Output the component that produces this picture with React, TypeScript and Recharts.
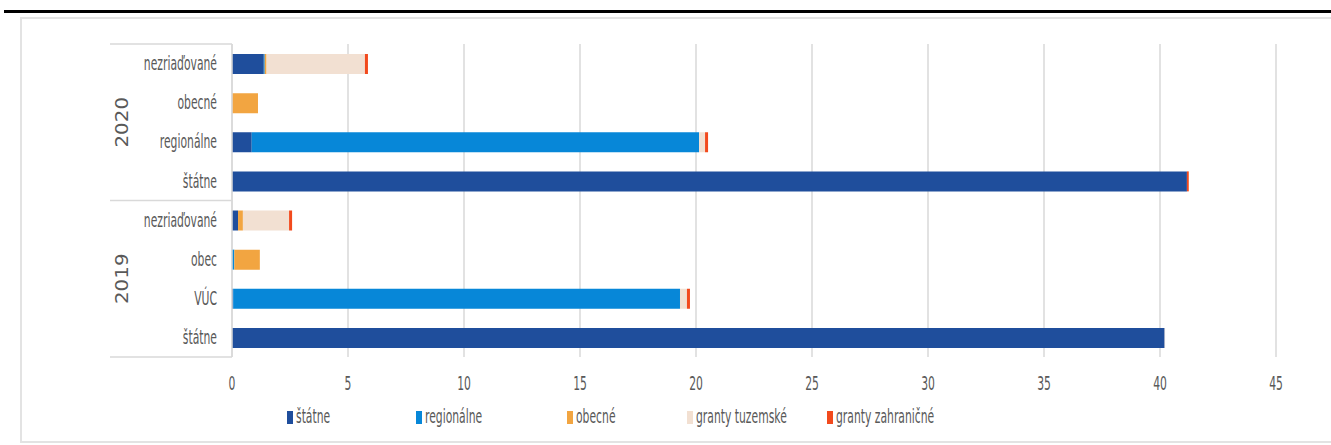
import React from 'react';
import { BarChart, Bar, XAxis, YAxis, CartesianGrid } from 'recharts';

const categories = ['nezriaďované', 'obecné', 'regionálne', 'štátne', 'nezriaďované', 'obec', 'VÚC', 'štátne'];
const years = ['2020', '2020', '2020', '2020', '2019', '2019', '2019', '2019'];
const statne = [1.37, 0, 0.85, 41.16, 0.26, 0, 0.05, 40.2];
const regionalne = [0.04, 0, 19.28, 0, 0, 0.1, 19.26, 0];
const obecne = [0.08, 1.12, 0, 0, 0.21, 1.1, 0, 0];
const grantyTuzemske = [4.24, 0, 0.26, 0, 1.99, 0, 0.3, 0.02];
const grantyZahranicne = [0.13, 0, 0.13, 0.08, 0.13, 0, 0.13, 0];
const xTicks = [0, 5, 10, 15, 20, 25, 30, 35, 40, 45];

const seriesNames = ['štátne', 'regionálne', 'obecné', 'granty tuzemské', 'granty zahraničné'];
const seriesColors = ['#1f4e9c', '#0787d8', '#f2a541', '#f2e0d2', '#f24a1d'];
const seriesValues = [statne, regionalne, obecne, grantyTuzemske, grantyZahranicne];

const data = categories.map((c, i) => {
  const row: any = { id: `${years[i]}-${i}`, cat: c, year: years[i] };
  seriesNames.forEach((s, k) => {
    row[s] = seriesValues[k][i];
  });
  return row;
});

const W = 1331;
const H = 445;
const PLOT_TOP = 44;
const PLOT_BOTTOM = 357;
const PLOT_LEFT = 232;
const PLOT_RIGHT = 1276;
const BAND = (PLOT_BOTTOM - PLOT_TOP) / categories.length;
const FONT = "'Liberation Sans Narrow', 'DejaVu Sans Condensed', 'Arial Narrow', sans-serif";
const TEXT = '#595959';
const GRID = '#d9d9d9';
const SX = 0.8;
const SY = 1.3;

const YTick = (props: any) => {
  const { y, index } = props;
  const i = index;
  const els: any[] = [];
  els.push(
    <text
      key="t"
      transform={`translate(${PLOT_LEFT - 15},${y}) scale(${SX},${SY})`}
      textAnchor="end"
      dominantBaseline="central"
      fontFamily={FONT}
      fontSize={15}
      fill={TEXT}
    >
      {categories[i]}
    </text>
  );
  const isStart = i === 0 || years[i] !== years[i - 1];
  if (isStart) {
    els.push(<line key="l" x1={110} x2={PLOT_LEFT} y1={y - BAND / 2} y2={y - BAND / 2} stroke={GRID} strokeWidth={1.5} />);
    let n = 0;
    while (i + n < years.length && years[i + n] === years[i]) n++;
    const cy = y - BAND / 2 + (n * BAND) / 2;
    els.push(
      <text
        key="y"
        transform={`translate(122,${cy}) scale(1,${SY}) rotate(-90)`}
        textAnchor="middle"
        dominantBaseline="central"
        fontFamily={FONT}
        fontSize={17}
        fill={TEXT}
      >
        {years[i]}
      </text>
    );
  }
  if (i === categories.length - 1) {
    els.push(<line key="b" x1={110} x2={PLOT_LEFT} y1={y + BAND / 2} y2={y + BAND / 2} stroke={GRID} strokeWidth={1.5} />);
  }
  return <g>{els}</g>;
};

const XTick = (props: any) => {
  const { x, payload } = props;
  return (
    <text
      transform={`translate(${x},${PLOT_BOTTOM + 26}) scale(${SX},${SY})`}
      textAnchor="middle"
      dominantBaseline="central"
      fontFamily={FONT}
      fontSize={15}
      fill={TEXT}
    >
      {payload.value}
    </text>
  );
};

const legendWidths = [129, 151, 120, 140, 180];

const LegendBox = () => (
  <div style={{ position: 'absolute', left: 287, top: 406, display: 'flex', fontFamily: FONT, fontSize: 15, color: TEXT }}>
    {seriesNames.map((s, k) => (
      <div key={s} style={{ width: legendWidths[k], display: 'flex', alignItems: 'center', height: 22, whiteSpace: 'nowrap' }}>
        <span style={{ display: 'inline-block', width: 6, height: 13, background: seriesColors[k], marginRight: 3, flex: 'none' }} />
        <span style={{ display: 'inline-block', transform: `scale(${SX},${SY})`, transformOrigin: 'left center' }}>{s}</span>
      </div>
    ))}
  </div>
);

export default function App() {
  return (
    <div style={{ position: 'absolute', left: 0, top: 0, width: W, height: H, background: '#fff', overflow: 'hidden' }}>
      <div style={{ position: 'absolute', left: 4, top: 10, width: W, height: 3, background: '#000' }} />
      <div
        style={{
          position: 'absolute',
          left: 20,
          top: 17,
          width: W,
          height: H - 17 - 2,
          borderLeft: '2px solid #e3e3e3',
          borderTop: '2px solid #e3e3e3',
          borderBottom: '2px solid #e3e3e3',
          boxSizing: 'border-box',
        }}
      />
      <div style={{ position: 'absolute', left: 0, top: 0 }}>
        <BarChart
          width={W}
          height={H}
          data={data}
          layout="vertical"
          margin={{ top: PLOT_TOP, bottom: 0, left: 0, right: W - PLOT_RIGHT }}
          barSize={20}
        >
          <CartesianGrid horizontal={false} stroke={GRID} strokeWidth={1.5} />
          <XAxis
            type="number"
            domain={[0, 45]}
            ticks={xTicks}
            axisLine={false}
            tickLine={false}
            tick={<XTick />}
            height={H - PLOT_BOTTOM}
            interval={0}
          />
          <YAxis
            type="category"
            dataKey="id"
            width={PLOT_LEFT}
            axisLine={{ stroke: GRID, strokeWidth: 1.5 }}
            tickLine={false}
            tick={<YTick />}
            interval={0}
          />
          {seriesNames.map((s, k) => (
            <Bar key={s} dataKey={s} stackId="a" fill={seriesColors[k]} isAnimationActive={false} />
          ))}
        </BarChart>
      </div>
      <LegendBox />
    </div>
  );
}
